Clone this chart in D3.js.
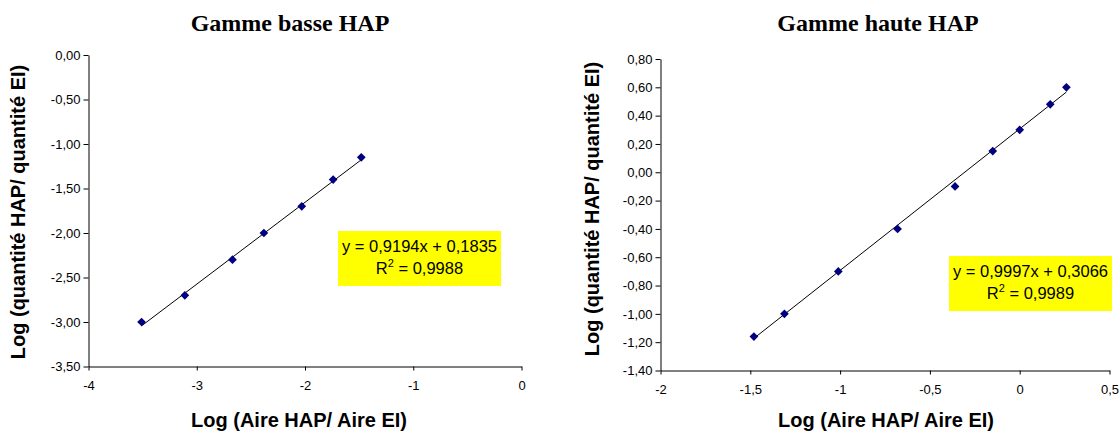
<!DOCTYPE html>
<html><head><meta charset="utf-8">
<script src="https://cdn.jsdelivr.net/npm/d3@7"></script>
<style>body{margin:0;background:#fff}svg{display:block}</style>
</head><body>
<svg id="c" width="1120" height="434"></svg>
<script>
// ---- data ----
const lowX = [-3.51, -3.11, -2.67, -2.38, -2.03, -1.74, -1.48];
const lowY = [-3.00, -2.70, -2.30, -2.00, -1.70, -1.40, -1.15];
const lowFit = {slope: 0.9194, intercept: 0.1835, r2: "0,9988", eq: "y = 0,9194x + 0,1835"};
const lowXTicks = [-4, -3, -2, -1, 0];
const lowYTicks = [0, -0.5, -1, -1.5, -2, -2.5, -3, -3.5];

const highX = [-1.48, -1.31, -1.01, -0.68, -0.36, -0.15, 0.00, 0.17, 0.26];
const highY = [-1.16, -1.00, -0.70, -0.40, -0.10, 0.15, 0.30, 0.48, 0.60];
const highFit = {slope: 0.9997, intercept: 0.3066, r2: "0,9989", eq: "y = 0,9997x + 0,3066"};
const highXTicks = [-2, -1.5, -1, -0.5, 0, 0.5];
const highYTicks = [0.8, 0.6, 0.4, 0.2, 0, -0.2, -0.4, -0.6, -0.8, -1.0, -1.2, -1.4];

const titles = ["Gamme basse HAP", "Gamme haute HAP"];
const xTitle = "Log (Aire HAP/ Aire EI)";
const yTitle = "Log (quantité HAP/ quantité EI)";

const svg = d3.select("#c");
const fmtComma = (d, dec) => d.toFixed(dec).replace(".", ",");

function chart(cfg) {
  const g = svg.append("g");
  const x = d3.scaleLinear().domain(cfg.xDomain).range(cfg.xRange);
  const y = d3.scaleLinear().domain(cfg.yDomain).range(cfg.yRange);

  // title
  g.append("text").attr("x", cfg.titleX).attr("y", 31).attr("text-anchor", "middle")
    .attr("font-family", "Liberation Serif, Times New Roman, serif").attr("font-weight", "bold")
    .attr("font-size", 24).attr("fill", "#000").text(cfg.title);

  // axes
  const xa = d3.axisBottom(x).tickValues(cfg.xTicks).tickSize(4).tickSizeOuter(0)
    .tickFormat(d => d === 0 ? "0" : (Number.isInteger(d) ? String(d) : fmtComma(d, 1)));
  const ya = d3.axisLeft(y).tickValues(cfg.yTicks).tickSize(5).tickSizeOuter(0)
    .tickFormat(d => fmtComma(Math.abs(d) < 1e-9 ? 0 : d, 2));
  const gx = g.append("g").attr("transform", `translate(0,${cfg.yRange[0]})`).call(xa);
  const gy = g.append("g").attr("transform", `translate(${cfg.xRange[0]},0)`).call(ya);
  [gx, gy].forEach(a => {
    a.selectAll("path,line").attr("stroke", "#000").attr("stroke-width", 1);
    a.selectAll("text").attr("font-family", "Liberation Sans, Arial, sans-serif")
      .attr("font-size", 13).attr("fill", "#000");
  });
  gx.selectAll("text").attr("dy", null).attr("y", 23.5);
  gy.selectAll("text").attr("x", -8);

  // axis titles
  g.append("text").attr("x", cfg.xTitleX).attr("y", 427).attr("text-anchor", "middle")
    .attr("font-family", "Liberation Sans, Arial, sans-serif").attr("font-weight", "bold")
    .attr("font-size", 20).text(xTitle);
  g.append("text").attr("transform", `translate(${cfg.yTitleX},${cfg.yTitleY}) rotate(-90)`)
    .attr("text-anchor", "middle")
    .attr("font-family", "Liberation Sans, Arial, sans-serif").attr("font-weight", "bold")
    .attr("font-size", 20).text(yTitle);

  // trend line
  const x0 = d3.min(cfg.xs), x1 = d3.max(cfg.xs);
  const f = v => cfg.fit.slope * v + cfg.fit.intercept;
  g.append("line").attr("x1", x(x0)).attr("y1", y(f(x0))).attr("x2", x(x1)).attr("y2", y(f(x1)))
    .attr("stroke", "#000").attr("stroke-width", 1);

  // markers
  const sym = d3.symbol().type(d3.symbolSquare).size(38);
  g.selectAll("path.pt").data(cfg.xs.map((v, i) => [v, cfg.ys[i]])).join("path")
    .attr("class", "pt").attr("d", sym)
    .attr("transform", d => `translate(${x(d[0])},${y(d[1])}) rotate(45)`)
    .attr("fill", "#000080");

  // equation box
  const b = cfg.box;
  g.append("rect").attr("x", b.x).attr("y", b.y).attr("width", b.w).attr("height", b.h).attr("fill", "#ffff00");
  const cx = b.x + b.w / 2;
  g.append("text").attr("x", cx).attr("y", b.y + 20.5).attr("text-anchor", "middle")
    .attr("font-family", "Liberation Sans, Arial, sans-serif").attr("font-size", 16.5).text(cfg.fit.eq);
  const t2 = g.append("text").attr("x", cx).attr("y", b.y + 42.5).attr("text-anchor", "middle")
    .attr("font-family", "Liberation Sans, Arial, sans-serif").attr("font-size", 16.5);
  t2.append("tspan").text("R");
  t2.append("tspan").attr("dy", -7).attr("font-size", 11).text("2");
  t2.append("tspan").attr("dy", 7).text(" = " + cfg.fit.r2);
}

chart({
  title: titles[0], titleX: 290, xTitleX: 299, yTitleX: 25, yTitleY: 212,
  xDomain: [-4, 0], xRange: [88.5, 521.5], yDomain: [-3.5, 0], yRange: [366.5, 55],
  xTicks: lowXTicks, yTicks: lowYTicks, xs: lowX, ys: lowY, fit: lowFit,
  box: {x: 338, y: 231, w: 163, h: 55}
});
chart({
  title: titles[1], titleX: 878, xTitleX: 886, yTitleX: 599, yTitleY: 209,
  xDomain: [-2, 0.5], xRange: [660.5, 1109.5], yDomain: [-1.4, 0.8], yRange: [370.5, 59],
  xTicks: highXTicks, yTicks: highYTicks, xs: highX, ys: highY, fit: highFit,
  box: {x: 949, y: 256, w: 163, h: 55}
});
</script>
</body></html>
